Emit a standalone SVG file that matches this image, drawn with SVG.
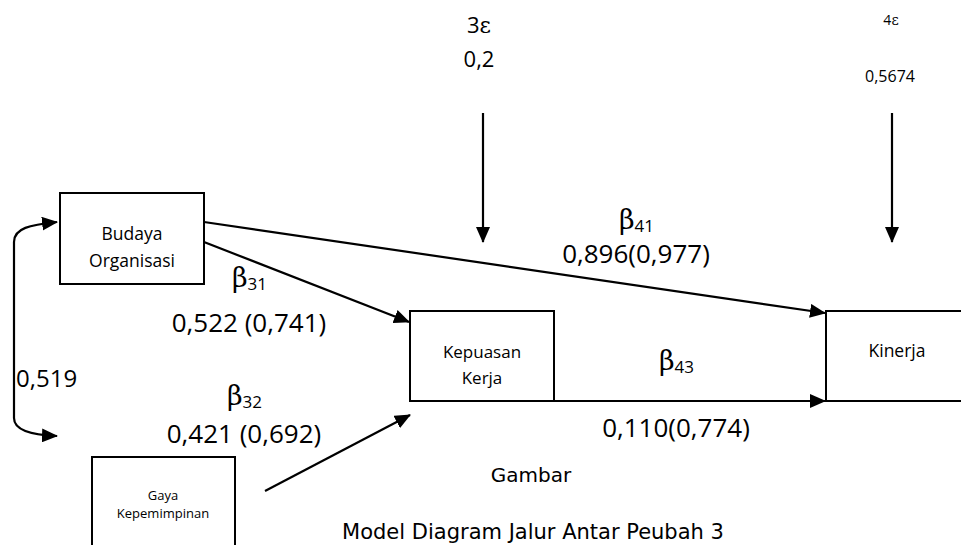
<svg xmlns="http://www.w3.org/2000/svg" width="961" height="545" viewBox="0 0 961 545">
<style>
.box{fill:#fff;stroke:#000;stroke-width:2}
.ln{fill:none;stroke:#000;stroke-width:2.2}
.t{font-family:"Open Sans","Liberation Sans",sans-serif;fill:#000}
.b{font-family:"DejaVu Serif","Liberation Serif",serif;fill:#000}
.c{font-family:"DejaVu Sans","Liberation Sans",sans-serif;fill:#000}
</style>
<defs>
<marker id="ah" markerUnits="userSpaceOnUse" markerWidth="16" markerHeight="14" refX="15" refY="7" orient="auto-start-reverse" viewBox="0 0 16 14">
<path d="M0,0 L16,7 L0,14 z" fill="#000"/>
</marker>
</defs>
<rect width="961" height="545" fill="#fff"/>
<g id="connectors">
<path class="ln" d="M57,222 C30,225 14,228 14,242 L14,418 C14,430 30,435 57,436" marker-start="url(#ah)" marker-end="url(#ah)"/>
<line class="ln" x1="204" y1="222" x2="825" y2="313" marker-end="url(#ah)"/>
<line class="ln" x1="204" y1="242" x2="409" y2="322" marker-end="url(#ah)"/>
<line class="ln" x1="265" y1="491" x2="410" y2="415" marker-end="url(#ah)"/>
<line class="ln" x1="555" y1="401" x2="825" y2="401" marker-end="url(#ah)"/>
<line class="ln" x1="483" y1="113" x2="483" y2="242" marker-end="url(#ah)"/>
<line class="ln" x1="892" y1="113" x2="892" y2="242" marker-end="url(#ah)"/>
</g>
<g id="budaya">
<rect class="box" x="60" y="193" width="144" height="91"/>
<text class="t" x="132" y="240" font-size="17.5" text-anchor="middle">Budaya</text>
<text class="t" x="132" y="267" font-size="17.5" text-anchor="middle">Organisasi</text>
</g>
<g id="gaya">
<rect class="box" x="92" y="457" width="143" height="110"/>
<text class="t" x="163" y="500" font-size="13" text-anchor="middle">Gaya</text>
<text class="t" x="163" y="518" font-size="13" text-anchor="middle">Kepemimpinan</text>
</g>
<g id="kepuasan">
<rect class="box" x="410" y="311" width="144" height="90"/>
<text class="t" x="482" y="358" font-size="17" text-anchor="middle">Kepuasan</text>
<text class="t" x="482" y="384" font-size="17" text-anchor="middle">Kerja</text>
</g>
<g id="kinerja">
<rect class="box" x="826" y="311" width="150" height="90"/>
<text class="t" x="897" y="357" font-size="17.5" text-anchor="middle">Kinerja</text>
</g>
<g id="labels">
<text class="t" x="479" y="33" font-size="22" text-anchor="middle">3<tspan class="b">ε</tspan></text>
<text class="t" x="479" y="67" font-size="22" text-anchor="middle">0,2</text>
<text class="t" x="891" y="25" font-size="14" text-anchor="middle">4<tspan class="b">ε</tspan></text>
<text class="t" x="890" y="82" font-size="16" text-anchor="middle">0,5674</text>
<text class="t" x="16" y="387" font-size="24">0,519</text>
<text x="232" y="287"><tspan class="b" font-size="27">β</tspan><tspan class="t" font-size="17" dy="3">31</tspan></text>
<text class="t" x="249" y="332" font-size="26" text-anchor="middle">0,522 (0,741)</text>
<text x="227" y="405"><tspan class="b" font-size="27">β</tspan><tspan class="t" font-size="17" dy="3">32</tspan></text>
<text class="t" x="244" y="443" font-size="26" text-anchor="middle">0,421 (0,692)</text>
<text x="619" y="229"><tspan class="b" font-size="27">β</tspan><tspan class="t" font-size="17" dy="3">41</tspan></text>
<text class="t" x="636" y="263" font-size="26" text-anchor="middle">0,896(0,977)</text>
<text x="659" y="370"><tspan class="b" font-size="27">β</tspan><tspan class="t" font-size="17" dy="3">43</tspan></text>
<text class="t" x="676" y="437" font-size="26" text-anchor="middle">0,110(0,774)</text>
<text class="c" x="531" y="482" font-size="20" text-anchor="middle">Gambar</text>
<text class="c" x="533" y="539" font-size="21" text-anchor="middle">Model Diagram Jalur Antar Peubah 3</text>
</g>
</svg>
